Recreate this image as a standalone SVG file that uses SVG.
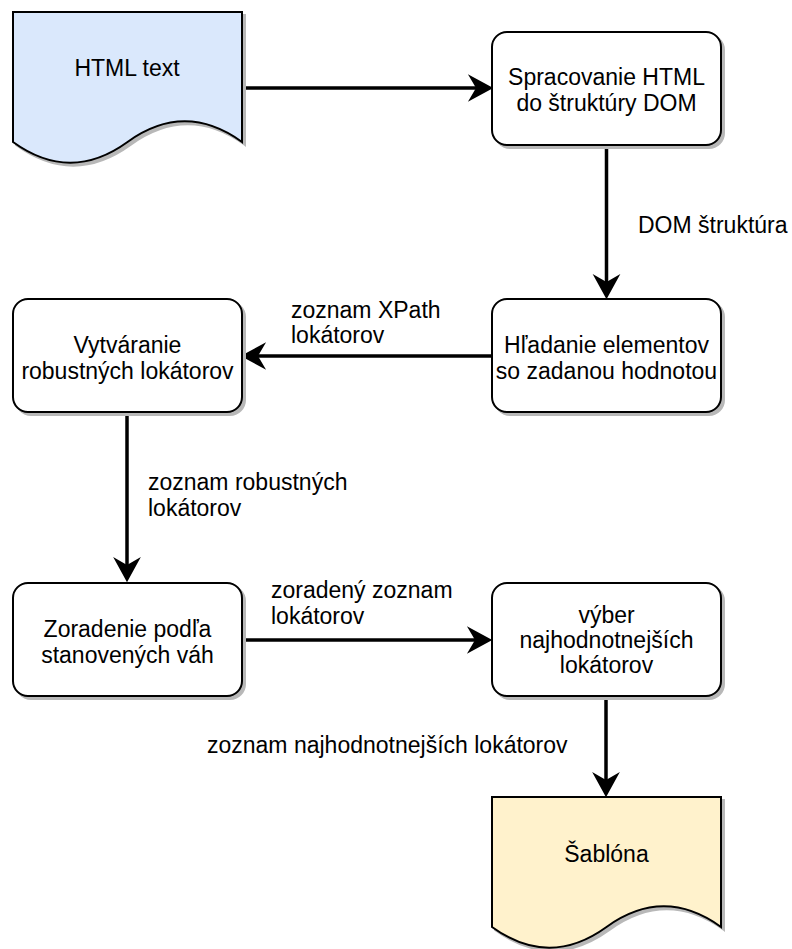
<svg xmlns="http://www.w3.org/2000/svg" width="792" height="949" viewBox="0 0 792 949">
<style>
.box{fill:#ffffff;stroke:#000000;stroke-width:2}
.shadow{fill:#b8b8b8;stroke:#b8b8b8;stroke-width:2}
.t{font-family:"Liberation Sans",Arial,Helvetica,sans-serif;font-size:23px;fill:#000000}
.c{text-anchor:middle}
.edge{fill:none;stroke:#000000;stroke-width:3.5}
</style>
<defs>
<marker id="arrow" markerUnits="userSpaceOnUse" markerWidth="30" markerHeight="30" viewBox="-8 -13 26 26" refX="0" refY="0" orient="auto" overflow="visible">
<path d="M15,0 L-7,-12 L0,0 L-7,12 Z" fill="#000000"/>
</marker>
</defs>
<rect width="792" height="949" fill="#ffffff"/>

<g id="connectors">
<path class="edge" d="M242,88 L476,88" marker-end="url(#arrow)"/>
<path class="edge" d="M606.5,145 L606.5,282" marker-end="url(#arrow)"/>
<path class="edge" d="M492,356 L258,356" marker-end="url(#arrow)"/>
<path class="edge" d="M127,412 L127,565" marker-end="url(#arrow)"/>
<path class="edge" d="M242,640 L475,640" marker-end="url(#arrow)"/>
<path class="edge" d="M606,696 L606,780" marker-end="url(#arrow)"/>
<text class="t" x="638" y="233">DOM štruktúra</text>
<text class="t" x="291" y="318">zoznam XPath</text>
<text class="t" x="291" y="343">lokátorov</text>
<text class="t" x="148" y="490">zoznam robustných</text>
<text class="t" x="148" y="516">lokátorov</text>
<text class="t" x="271" y="598">zoradený zoznam</text>
<text class="t" x="271" y="624">lokátorov</text>
<text class="t" x="207" y="753">zoznam najhodnotnejších lokátorov</text>
</g>

<g id="html-text">
<path class="shadow" transform="translate(3,3)" d="M13,12 L242,12 L242,142 Q184.75,100.7 127.5,142 Q70.25,183.4 13,142 Z"/>
<path d="M13,12 L242,12 L242,142 Q184.75,100.7 127.5,142 Q70.25,183.4 13,142 Z" fill="#dae8fc" stroke="#000000" stroke-width="2"/>
<text class="t c" x="127" y="76">HTML text</text>
</g>

<g id="spracovanie">
<rect class="shadow" x="495" y="35" width="229" height="113" rx="15"/>
<rect class="box" x="492" y="32" width="229" height="113" rx="15"/>
<text class="t c" x="606.5" y="85">Spracovanie HTML</text>
<text class="t c" x="606.5" y="111">do štruktúry DOM</text>
</g>

<g id="hladanie">
<rect class="shadow" x="495" y="302" width="229" height="113" rx="15"/>
<rect class="box" x="492" y="299" width="229" height="113" rx="15"/>
<text class="t c" x="606.5" y="353">Hľadanie elementov</text>
<text class="t c" x="606.5" y="379">so zadanou hodnotou</text>
</g>

<g id="vytvaranie">
<rect class="shadow" x="16" y="302" width="229" height="113" rx="15"/>
<rect class="box" x="13" y="299" width="229" height="113" rx="15"/>
<text class="t c" x="127.5" y="353">Vytváranie</text>
<text class="t c" x="127.5" y="379">robustných lokátorov</text>
</g>

<g id="zoradenie">
<rect class="shadow" x="16" y="586" width="229" height="113" rx="15"/>
<rect class="box" x="13" y="583" width="229" height="113" rx="15"/>
<text class="t c" x="127.5" y="637">Zoradenie podľa</text>
<text class="t c" x="127.5" y="663">stanovených váh</text>
</g>

<g id="vyber">
<rect class="shadow" x="495" y="586" width="229" height="113" rx="15"/>
<rect class="box" x="492" y="583" width="229" height="113" rx="15"/>
<text class="t c" x="606.5" y="623">výber</text>
<text class="t c" x="606.5" y="648">najhodnotnejších</text>
<text class="t c" x="606.5" y="673">lokátorov</text>
</g>

<g id="sablona">
<path class="shadow" transform="translate(3,3)" d="M492,797 L721,797 L721,927 Q663.75,885.7 606.5,927 Q549.25,968.4 492,927 Z"/>
<path d="M492,797 L721,797 L721,927 Q663.75,885.7 606.5,927 Q549.25,968.4 492,927 Z" fill="#fff2cc" stroke="#000000" stroke-width="2"/>
<text class="t c" x="606.5" y="862">Šablóna</text>
</g>
</svg>
